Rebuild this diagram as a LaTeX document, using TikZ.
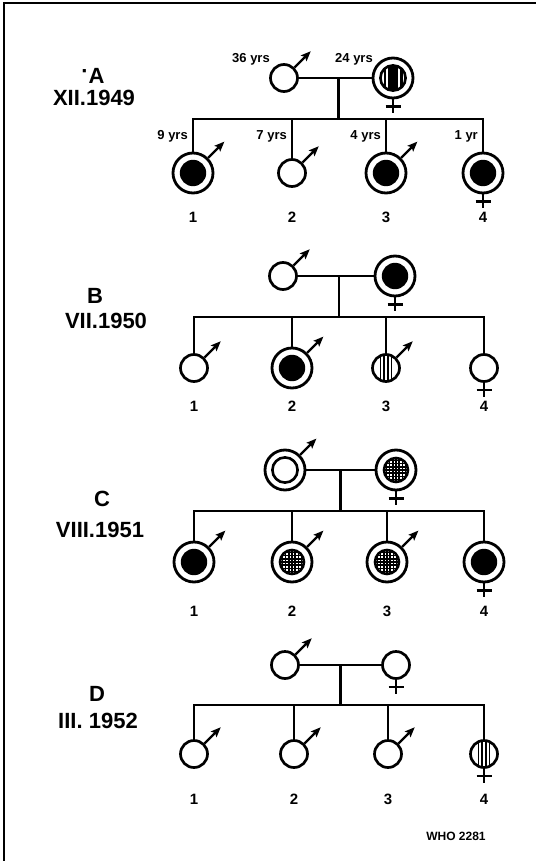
\documentclass[tikz,border=0pt]{standalone}
\usepackage{fontspec}
\setmainfont{Liberation Sans}
\usetikzlibrary{calc,arrows.meta}

% inner markings of the pedigree symbols
\newcommand\solidcore[1]{\fill (#1) circle (13.2pt);}
\newcommand\emptycore[1]{\draw[line width=2.6pt] (#1) circle (12.6pt);}
\newcommand\gridcore[1]{%
  \begin{scope}
    \clip (#1) circle (12pt);
    \begin{scope}[shift={(#1)}]
      \foreach \d in {-9.6,-6.4,...,9.7}{
        \draw[line width=1.7pt] (\d,-13) -- (\d,13);
        \draw[line width=1.7pt] (-13,\d) -- (13,\d);}
    \end{scope}
  \end{scope}
  \draw[line width=2.6pt] (#1) circle (12pt);}
\newcommand\stripecore[1]{%
  \begin{scope}
    \clip (#1) circle (13pt);
    \begin{scope}[shift={(#1)}]
      \foreach \d in {-5.4,-1.8,1.8,5.4}{\draw[line width=1.6pt] (\d,-15) -- (\d,15);}
    \end{scope}
  \end{scope}}
\newcommand\barcore[1]{%
  \begin{scope}
    \clip (#1) circle (12.6pt);
    \begin{scope}[shift={(#1)}]
      \fill (-4.8,-15) rectangle (4.8,15);
      \draw[line width=2.2pt] (-8.4,-15) -- (-8.4,15) (8.4,-15) -- (8.4,15);
    \end{scope}
  \end{scope}
  \draw[line width=2.6pt] (#1) circle (12.6pt);}
% sex signs
\newcommand\malemark[1]{\draw[marrow] (#1.45) -- ++(45:23pt);}
\newcommand\femalemark[1]{%
  \draw[link] (#1.south) -- ++(0,14);
  \draw[link] ($(#1.south)+(-7.5,7)$) -- ++(15,0);}
% parents joined, one drop line to the sibship line, children hung from it
\newcommand\family[7]{% father, mother, sibship y, four children
  \draw[link] (#1) -- (#2);
  \coordinate (mid#1) at ($(#1)!0.5!(#2)$);
  \draw[link] (mid#1) -- (mid#1 |- 0,#3);
  \draw[link] (#4) |- (mid#1 |- 0,#3) -| (#7);
  \draw[link] (#5 |- 0,#3) -- (#5);
  \draw[link] (#6 |- 0,#3) -- (#6);}

\begin{document}
\begin{tikzpicture}[x=1pt,y=-1pt,
  pcirc/.style={circle,draw,line width=2.7pt,minimum size=27pt,inner sep=0pt},
  rcirc/.style={circle,draw,line width=2.8pt,minimum size=40pt,inner sep=0pt},
  link/.style={line width=2.7pt},
  marrow/.style={line width=2.2pt,-{Stealth[length=10pt,width=8pt,inset=2pt]}},
  gentitle/.style={font=\bfseries\fontsize{22}{24}\selectfont,inner sep=0pt},
  agelbl/.style={font=\bfseries\fontsize{13}{14}\selectfont,inner sep=0pt},
  numlbl/.style={font=\bfseries\fontsize{15}{16}\selectfont,inner sep=0pt},
]
\useasboundingbox (0,0) rectangle (536,861);
\fill[white] (0,0) rectangle (536,861);

% frame
\draw[line width=2.6pt] (4,861) -- (4,3) -- (536,3);

% ---------------- A ----------------
\node[gentitle] (tA) at (93,76) {\raisebox{5pt}{·}A};
\node[gentitle] (dA) at (94,98) {XII.1949};
\node[pcirc] (fA) at (284,78) {};
\node[rcirc] (mA) at (393,78) {}; \barcore{mA}
\node[rcirc] (a1) at (193,173) {}; \solidcore{a1}
\node[pcirc] (a2) at (292,173) {};
\node[rcirc] (a3) at (386,173) {}; \solidcore{a3}
\node[rcirc] (a4) at (483,173) {}; \solidcore{a4}
\family{fA}{mA}{119}{a1}{a2}{a3}{a4}
\malemark{fA} \malemark{a1} \malemark{a2} \malemark{a3}
\femalemark{mA} \femalemark{a4}
\node[agelbl,anchor=east] (agF) at (270,59) {36 yrs};
\node[agelbl,anchor=east] (agM) at (373,59) {24 yrs};
\node[agelbl,anchor=east] (ag1) at (188,136) {9 yrs};
\node[agelbl,anchor=east] (ag2) at (287,136) {7 yrs};
\node[agelbl,anchor=east] (ag3) at (381,136) {4 yrs};
\node[agelbl,anchor=east] (ag4) at (478,136) {1 yr};
\node[numlbl] (na1) at (193,217) {1};
\node[numlbl] (na2) at (292,217) {2};
\node[numlbl] (na3) at (386,217) {3};
\node[numlbl] (na4) at (483,217) {4};

% ---------------- B ----------------
\node[gentitle] (tB) at (95,296) {B};
\node[gentitle] (dB) at (106,321) {VII.1950};
\node[pcirc] (fB) at (283,276) {};
\node[rcirc] (mB) at (395,276) {}; \solidcore{mB}
\node[pcirc] (b1) at (194,368) {};
\node[rcirc] (b2) at (292,368) {}; \solidcore{b2}
\node[pcirc] (b3) at (386,368) {}; \stripecore{b3}
\node[pcirc] (b4) at (484,368) {};
\family{fB}{mB}{317}{b1}{b2}{b3}{b4}
\malemark{fB} \malemark{b1} \malemark{b2} \malemark{b3}
\femalemark{mB} \femalemark{b4}
\node[numlbl] (nb1) at (194,406) {1};
\node[numlbl] (nb2) at (292,406) {2};
\node[numlbl] (nb3) at (386,406) {3};
\node[numlbl] (nb4) at (484,406) {4};

% ---------------- C ----------------
\node[gentitle] (tC) at (102,499) {C};
\node[gentitle] (dC) at (100,530) {VIII.1951};
\node[rcirc] (fC) at (285,470) {}; \emptycore{fC}
\node[rcirc] (mC) at (396,470) {}; \gridcore{mC}
\node[rcirc] (c1) at (194,562) {}; \solidcore{c1}
\node[rcirc] (c2) at (292,562) {}; \gridcore{c2}
\node[rcirc] (c3) at (387,562) {}; \gridcore{c3}
\node[rcirc] (c4) at (484,562) {}; \solidcore{c4}
\family{fC}{mC}{511}{c1}{c2}{c3}{c4}
\malemark{fC} \malemark{c1} \malemark{c2} \malemark{c3}
\femalemark{mC} \femalemark{c4}
\node[numlbl] (nc1) at (194,611) {1};
\node[numlbl] (nc2) at (292,611) {2};
\node[numlbl] (nc3) at (387,611) {3};
\node[numlbl] (nc4) at (484,611) {4};

% ---------------- D ----------------
\node[gentitle] (tD) at (97,694) {D};
\node[gentitle] (dD) at (98,721) {III. 1952};
\node[pcirc] (fD) at (285,665) {};
\node[pcirc] (mD) at (396,665) {};
\node[pcirc] (d1) at (194,754) {};
\node[pcirc] (d2) at (294,754) {};
\node[pcirc] (d3) at (388,754) {};
\node[pcirc] (d4) at (484,754) {}; \stripecore{d4}
\family{fD}{mD}{705}{d1}{d2}{d3}{d4}
\malemark{fD} \malemark{d1} \malemark{d2} \malemark{d3}
\femalemark{mD} \femalemark{d4}
\node[numlbl] (nd1) at (194,799) {1};
\node[numlbl] (nd2) at (294,799) {2};
\node[numlbl] (nd3) at (388,799) {3};
\node[numlbl] (nd4) at (484,799) {4};

\node[font=\bfseries\fontsize{12}{13}\selectfont,inner sep=0pt] (who) at (456,836) {WHO 2281};
\end{tikzpicture}
\end{document}
